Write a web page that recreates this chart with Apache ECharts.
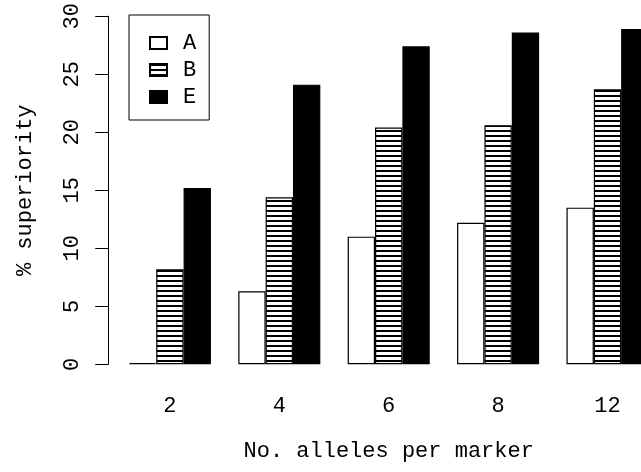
<!DOCTYPE html>
<html>
<head>
<meta charset="utf-8">
<script src="https://cdn.jsdelivr.net/npm/echarts@6/dist/echarts.min.js"></script>
<style>
  html, body { margin: 0; padding: 0; background: #fff; overflow: hidden; }
  /* wider than the window: the last group runs past the right edge */
  #chartDiv { width: 700px; height: 472px; }
</style>
</head>
<body>
<div id="chartDiv"></div>
<script>
// 数据
var categories = ['2', '4', '6', '8', '12'];
var valuesA = [0.1, 6.3, 11.0, 12.2, 13.5];
var valuesB = [8.2, 14.4, 20.4, 20.6, 23.7];
var valuesE = [15.2, 24.1, 27.4, 28.6, 28.9];
var seriesNames = ['A', 'B', 'E'];
var yMin = 0, yMax = 30, yStep = 5;

var FONT = 'Liberation Mono';

// horizontal hatch for B
function hatchPattern() {
    var c = document.createElement('canvas');
    c.width = 8;
    c.height = 5;
    var ctx = c.getContext('2d');
    ctx.fillStyle = '#fff';
    ctx.fillRect(0, 0, 8, 5);
    ctx.fillStyle = '#000';
    ctx.fillRect(0, 0, 8, 2);
    return c;
}

var myChart = echarts.init(document.getElementById('chartDiv'), null, {renderer: 'canvas'});

var barStyle = {
    type: 'bar',
    barWidth: 27.35,
    barGap: '0%',
    animation: false
};

function makeSeries(name, data, fill) {
    return Object.assign({}, barStyle, {
        name: name,
        data: data,
        itemStyle: {
            color: fill,
            borderColor: '#000',
            borderWidth: 1.2
        }
    });
}

myChart.setOption({
    animation: false,
    grid: {
        left: 115.2,
        top: 16,
        width: 547,
        height: 348.3
    },
    legend: {
        data: seriesNames,
        orient: 'vertical',
        left: 129,
        top: 15,
        padding: [17, 13, 12, 20],
        itemWidth: 17,
        itemHeight: 12,
        itemGap: 5,
        icon: 'rect',
        borderColor: '#000',
        borderWidth: 1,
        textStyle: {
            fontFamily: FONT,
            fontSize: 22,
            color: '#000',
            padding: [0, 0, 0, 11]
        }
    },
    xAxis: {
        type: 'category',
        data: categories,
        name: 'No. alleles per marker',
        nameLocation: 'middle',
        nameGap: 76,
        nameTextStyle: {fontFamily: FONT, fontSize: 22, color: '#000'},
        axisLine: {show: false},
        axisTick: {show: false},
        axisLabel: {fontFamily: FONT, fontSize: 22, color: '#000', margin: 31},
        splitLine: {show: false}
    },
    yAxis: {
        type: 'value',
        min: yMin,
        max: yMax,
        interval: yStep,
        offset: 7,
        name: '% superiority',
        nameLocation: 'middle',
        nameRotate: 90,
        nameGap: 72,
        nameTextStyle: {fontFamily: FONT, fontSize: 22, color: '#000'},
        axisLine: {show: true, lineStyle: {color: '#000', width: 1}},
        axisTick: {show: true, length: 13, lineStyle: {color: '#000', width: 1}},
        axisLabel: {fontFamily: FONT, fontSize: 22, color: '#000', rotate: 90, margin: 25},
        splitLine: {show: false}
    },
    series: [
        makeSeries('A', valuesA, '#fff'),
        makeSeries('B', valuesB, {image: hatchPattern(), repeat: 'repeat'}),
        makeSeries('E', valuesE, '#000')
    ]
});
</script>
</body>
</html>
